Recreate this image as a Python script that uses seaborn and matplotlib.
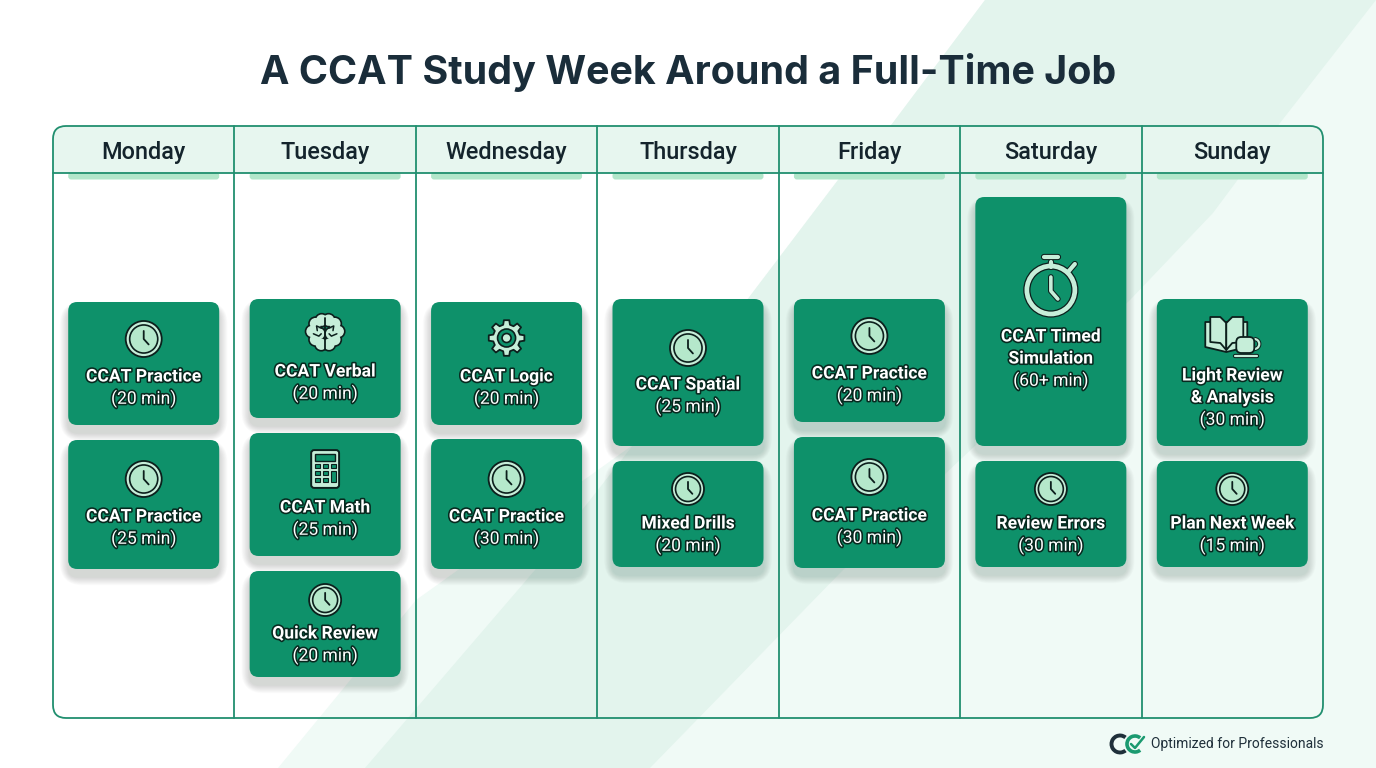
import numpy as np
import pandas as pd
import matplotlib
matplotlib.use("Agg")
import matplotlib.pyplot as plt
import matplotlib.patheffects as pe
from matplotlib.patches import Arc, Circle, FancyBboxPatch, Polygon, Rectangle
import seaborn as sns

# ===============================
# DATA
# ===============================
TITLE = "A CCAT Study Week Around a Full-Time Job"
FOOTER = "Optimized for Professionals"
days = ["Monday", "Tuesday", "Wednesday", "Thursday", "Friday", "Saturday", "Sunday"]

card_day = [0, 0, 1, 1, 1, 2, 2, 3, 3, 4, 4, 5, 5, 6, 6]
card_slot = [0, 1, 0, 1, 2, 0, 1, 0, 1, 0, 1, 0, 1, 0, 1]
card_titles = [
    ["CCAT Practice"], ["CCAT Practice"],
    ["CCAT Verbal"], ["CCAT Math"], ["Quick Review"],
    ["CCAT Logic"], ["CCAT Practice"],
    ["CCAT Spatial"], ["Mixed Drills"],
    ["CCAT Practice"], ["CCAT Practice"],
    ["CCAT Timed", "Simulation"], ["Review Errors"],
    ["Light Review", "& Analysis"], ["Plan Next Week"],
]
card_minutes = ["20", "25", "20", "25", "20", "20", "30", "25", "20", "20", "30", "60+", "30", "30", "15"]
card_icons = ["clock", "clock", "brain", "calc", "clock", "gear", "clock", "clock", "clock",
              "clock", "clock", "watch", "clock", "book", "clock"]

# ===============================
# LAYOUT (pixels)
# ===============================
card_top = [302, 440, 299, 433, 571, 302, 439, 299, 461, 299, 437, 197, 461, 299, 461]
card_height = [123, 129, 119, 123, 106, 123, 130, 147, 106, 123, 131, 249, 106, 147, 106]
icon_y = [339, 479, 333, 469, 600, 338, 479, 348, 489, 336, 477, 287, 489, 337, 489]
icon_r = [18, 18, 18, 18, 16, 18, 18, 18, 16, 18, 18, 26, 16, 18, 16]
text_y = [377, 517, 372, 508, 634, 377, 517, 385, 524, 374, 516, 337, 524, 376, 524]

W, H = 1376, 768
LEFT, RIGHT, TOP, BOTTOM, HEAD = 53, 1323, 126, 718, 173
CARD_W = 151
LINE_H = 22

CARD = "#0e916a"
LINE = "#218f6f"
MINT = "#c6eed9"
INK = "#0c1f1c"
DARK = "#1a2d3a"
STRIP = "#b2e6ca"

col_edges = np.linspace(LEFT, RIGHT, 8)
col_centers = (col_edges[:-1] + col_edges[1:]) / 2

# ===============================
# FIGURE
# ===============================
sns.set_theme(style="white")
plt.rcParams["font.family"] = ["Roboto", "DejaVu Sans"]

fig = plt.figure(figsize=(W / 100, H / 100), dpi=100, facecolor="white")
ax = fig.add_axes([0, 0, 1, 1])

# background bands
ax.add_patch(Polygon([(278, 768), (416, 600), (630, 447), (747, 300), (838, 180), (892, 124), (985, 0),
                      (1376, 0), (1376, 768)],
                     fc="#f0faf6", ec="none", zorder=0))
ax.add_patch(Polygon([(365, 768), (535, 570), (747, 300), (838, 180), (892, 124), (985, 0), (1376, 0),
                      (1280, 123), (1213, 213), (1130, 300), (843, 570), (650, 768)],
                     fc="#e3f4ed", ec="none", zorder=0.1))

# ===============================
# CARDS, drawn as seaborn bars then rounded
# ===============================
df = pd.DataFrame({
    "center": col_centers[card_day],
    "slot": card_slot,
    "top": card_top,
    "height": card_height,
})


def round_bars(container, width, radius, zorder, color, shadow=False):
    for rect in list(container):
        x0 = rect.get_x() + rect.get_width() / 2 - width / 2
        y0, h = rect.get_y(), rect.get_height()
        rect.remove()
        if shadow:
            for grow in range(14, 0, -1):
                ax.add_patch(FancyBboxPatch((x0 - grow * 0.6, y0 + 8 - grow * 0.6), width + grow * 1.2,
                                            h + grow * 1.2, boxstyle=f"round,pad=0,rounding_size={radius + grow}",
                                            fc="#12352b", ec="none", alpha=0.013, zorder=zorder - 0.5))
        ax.add_patch(FancyBboxPatch((x0, y0), width, h, boxstyle=f"round,pad=0,rounding_size={radius}",
                                    fc=color, ec="none", zorder=zorder))


# strip under each header
strip = pd.DataFrame({"center": col_centers, "height": 7})
sns.barplot(data=strip, x="center", y="height", native_scale=True, width=0.83, color=STRIP,
            bottom=HEAD - 0.5, errorbar=None, ax=ax)
round_bars(ax.containers[-1], CARD_W, 3, 1.5, STRIP)

for slot, sub in df.groupby("slot"):
    sns.barplot(data=sub, x="center", y="height", native_scale=True, width=0.83, color=CARD,
                bottom=sub["top"].to_numpy(), errorbar=None, ax=ax)
    round_bars(ax.containers[-1], CARD_W, 9, 4, CARD, shadow=True)

ax.set_xlim(0, W)
ax.set_ylim(H, 0)
ax.axis("off")

# ===============================
# GRID PANEL
# ===============================
panel = FancyBboxPatch((LEFT, TOP), RIGHT - LEFT, BOTTOM - TOP, boxstyle="round,pad=0,rounding_size=13",
                       fc="none", ec=LINE, lw=1.3, zorder=3)
ax.add_patch(panel)
head = Rectangle((LEFT, TOP), RIGHT - LEFT, HEAD - TOP, fc="#e7f6ef", ec="none", zorder=1)
ax.add_patch(head)
head.set_clip_path(panel)
ax.plot([LEFT, RIGHT], [HEAD, HEAD], color=LINE, lw=1.3, zorder=3)
for x in col_edges[1:-1]:
    ax.plot([x, x], [TOP, BOTTOM], color=LINE, lw=1.3, zorder=3)

for name, x in zip(days, col_centers):
    ax.text(x, 152, name, ha="center", va="center", fontsize=16.9, fontweight="medium",
            color="#14242c", zorder=5)

ax.text(688, 72, TITLE, ha="center", va="center", fontsize=28.4, fontweight="bold",
        family=["Inter", "DejaVu Sans"], color=DARK, zorder=5)


# ===============================
# ICONS
# ===============================
def stroke(xs, ys, lw=2.4, z=6):
    # mint line with a thin dark outline
    ax.plot(xs, ys, color=INK, lw=lw + 1.5, solid_capstyle="round", solid_joinstyle="round", zorder=z)
    ax.plot(xs, ys, color=MINT, lw=lw, solid_capstyle="round", solid_joinstyle="round", zorder=z + 0.1)


def hands(x, y, r, lw=1.5, color=INK, z=6.5):
    ax.plot([x, x, x + 0.38 * r], [y - 0.62 * r, y, y + 0.42 * r], color=color, lw=lw,
            solid_capstyle="round", solid_joinstyle="round", zorder=z)


def draw_clock(x, y, r):
    ax.add_patch(Circle((x, y), r, fc=MINT, ec=INK, lw=1.3, zorder=6))
    ax.add_patch(Circle((x, y), r * 0.78, fc="#b5e8cb", ec=INK, lw=1.2, zorder=6.1))
    hands(x, y, r * 0.72, lw=1.3)


def draw_watch(x, y, r):
    ax.add_patch(Circle((x, y + 3), r - 2, fc="none", ec=INK, lw=5.2, zorder=6))
    ax.add_patch(Circle((x, y + 3), r - 2, fc="none", ec=MINT, lw=3.4, zorder=6.1))
    stroke([x, x], [y - 25, y - 20], lw=3)
    stroke([x - 7, x + 7], [y - 30, y - 30], lw=3)
    stroke([x + 18, x + 24], [y - 16, y - 23], lw=3)
    stroke([x, x, x + 7], [y - 10, y + 4, y + 12], lw=2.6, z=6.2)


def draw_gear(x, y, r):
    n = 8
    pts = []
    for i in range(n):
        a = 2 * np.pi * i / n
        for da, rad in [(-0.25, 0.76), (-0.15, 1.0), (0.15, 1.0), (0.25, 0.76)]:
            pts.append((x + r * rad * np.cos(a + da), y + r * rad * np.sin(a + da)))
    ax.add_patch(Polygon(pts, closed=True, fc=MINT, ec=INK, lw=1.3, joinstyle="round", zorder=6))
    ax.add_patch(Circle((x, y), r * 0.5, fc=CARD, ec=INK, lw=1.2, zorder=6.1))
    ax.add_patch(Circle((x, y), r * 0.25, fc=MINT, ec=INK, lw=1.2, zorder=6.2))


def draw_calc(x, y, r):
    w, h = 1.55 * r, 2.1 * r
    ax.add_patch(FancyBboxPatch((x - w / 2, y - h / 2), w, h, boxstyle="round,pad=0,rounding_size=3",
                                fc=MINT, ec=INK, lw=1.4, zorder=6))
    ax.add_patch(Rectangle((x - w / 2 + 4, y - h / 2 + 4), w - 8, 7, fc=CARD, ec=INK, lw=1, zorder=6.1))
    for row in range(3):
        for col in range(3):
            if col == 2 and row > 0:
                continue
            ax.add_patch(Rectangle((x - 10 + col * 8, y - 5 + row * 7), 5, 4, fc=CARD, ec=INK, lw=0.8, zorder=6.1))
    ax.add_patch(Rectangle((x + 6, y + 2), 5, 11, fc=CARD, ec=INK, lw=0.8, zorder=6.1))


def draw_brain(x, y, r):
    r = r * 0.87
    lobes = [(-0.62, -0.6), (-0.22, -0.82), (-0.84, -0.1), (-0.62, 0.42), (-0.25, 0.72), (-0.4, 0.05)]
    lobes += [(-a, b) for a, b in lobes]
    for a, b in lobes:
        ax.add_patch(Circle((x + a * r, y + b * r), r * 0.36, fc=MINT, ec=INK, lw=2.4, zorder=6))
    for a, b in lobes:
        ax.add_patch(Circle((x + a * r, y + b * r), r * 0.36, fc=MINT, ec="none", zorder=6.1))
    ax.plot([x, x], [y - r * 0.95, y + r], color=INK, lw=1.3, zorder=6.2)
    for s in (-1, 1):
        ax.plot([x + s * 0.2 * r, x + s * 0.55 * r, x + s * 0.5 * r], [y - 0.3 * r, y - 0.45 * r, y - 0.15 * r],
                color=INK, lw=1.1, zorder=6.2)
        ax.plot([x + s * 0.75 * r, x + s * 0.4 * r, x + s * 0.25 * r], [y + 0.05 * r, y + 0.2 * r, y + 0.05 * r],
                color=INK, lw=1.1, zorder=6.2)


def draw_book(x, y, r):
    # back cover, then the two pages, then the cup in front
    back = [(x - 27, y - 15), (x - 27, y + 10), (x - 6, y + 15), (x + 15, y + 10), (x + 15, y - 15)]
    left = [(x - 22, y - 20), (x - 12, y - 20), (x - 6, y - 14), (x - 6, y + 13), (x - 12, y + 6), (x - 22, y + 5)]
    right = [(x - 6, y - 14), (x, y - 20), (x + 11, y - 20), (x + 11, y + 5), (x, y + 6), (x - 6, y + 13)]
    ax.add_patch(Polygon(back, fc=MINT, ec=INK, lw=1.3, joinstyle="round", zorder=6))
    ax.add_patch(Polygon(left, fc=MINT, ec=INK, lw=1.3, joinstyle="round", zorder=6.05))
    ax.add_patch(Polygon(right, fc=MINT, ec=INK, lw=1.3, joinstyle="round", zorder=6.05))
    ax.add_patch(Arc((x + 22, y + 7), 10, 10, theta1=-90, theta2=90, color=INK, lw=3, zorder=6.2))
    ax.add_patch(Arc((x + 22, y + 7), 10, 10, theta1=-90, theta2=90, color=MINT, lw=1.6, zorder=6.3))
    ax.add_patch(FancyBboxPatch((x + 4, y + 0), 18, 16, boxstyle="round,pad=0,rounding_size=5",
                                fc=MINT, ec=INK, lw=1.3, zorder=6.4))
    stroke([x + 3, x + 25], [y + 19, y + 19], lw=1.6, z=6.4)


ICONS = {"clock": draw_clock, "watch": draw_watch, "gear": draw_gear, "calc": draw_calc,
         "brain": draw_brain, "book": draw_book}

# ===============================
# CARD CONTENT
# ===============================
outline = [pe.withStroke(linewidth=2.3, foreground="#07291f")]
for i, icon in enumerate(card_icons):
    cx = col_centers[card_day[i]]
    ICONS[icon](cx, icon_y[i], icon_r[i])
    y = text_y[i]
    for line in card_titles[i]:
        ax.text(cx, y, line, ha="center", va="center", fontsize=12.6, fontweight="bold", color="white",
                path_effects=outline, zorder=8)
        y += LINE_H
    ax.text(cx, y, f"({card_minutes[i]} min)", ha="center", va="center", fontsize=12.6, color="white",
            path_effects=outline, zorder=8)

# ===============================
# FOOTER
# ===============================
ax.add_patch(Arc((1120, 744), 17, 17, theta1=50, theta2=310, color="#1f2f3a", lw=2.8, zorder=5))
ax.add_patch(Arc((1135, 744), 16, 16, theta1=50, theta2=310, color="#1b9a70", lw=2.6, zorder=5))
ax.plot([1131, 1135, 1144], [744, 748, 737], color="#1b9a70", lw=1.8, zorder=5.1)
ax.text(1324, 744, FOOTER, ha="right", va="center", fontsize=9.97, color="#1f2f3a", zorder=5)

fig.savefig("out.png", dpi=100)
